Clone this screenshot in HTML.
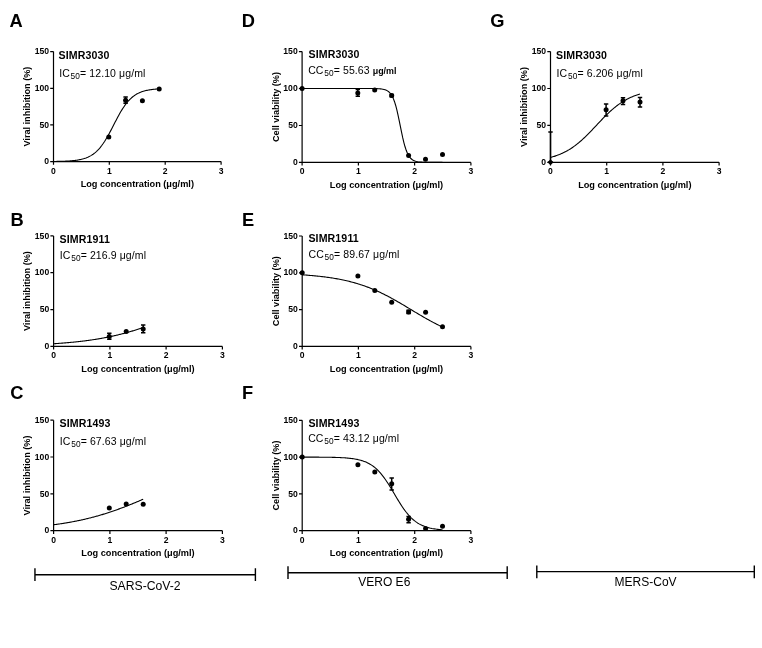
<!DOCTYPE html>
<html><head><meta charset="utf-8"><style>
html,body{margin:0;padding:0;background:#fff;}
svg{display:block;font-family:"Liberation Sans",sans-serif;will-change:transform;}
</style></head><body>
<svg width="762" height="648" viewBox="0 0 762 648" fill="#000">
<text x="9.5" y="27.1" font-size="18.3" font-weight="bold">A</text>
<path d="M53.5 51.6V161.6H221.1" fill="none" stroke="#000" stroke-width="1.2"/>
<path d="M50.2 161.6H53.5M50.2 124.9H53.5M50.2 88.3H53.5M50.2 51.6H53.5M53.5 161.6V164.8M109.3 161.6V164.8M165.2 161.6V164.8M221.1 161.6V164.8" stroke="#000" stroke-width="1.2"/>
<text x="49.1" y="164.2" font-size="8.6" font-weight="bold" text-anchor="end">0</text>
<text x="49.1" y="127.5" font-size="8.6" font-weight="bold" text-anchor="end">50</text>
<text x="49.1" y="90.9" font-size="8.6" font-weight="bold" text-anchor="end">100</text>
<text x="49.1" y="54.2" font-size="8.6" font-weight="bold" text-anchor="end">150</text>
<text x="53.5" y="173.6" font-size="8.6" font-weight="bold" text-anchor="middle">0</text>
<text x="109.3" y="173.6" font-size="8.6" font-weight="bold" text-anchor="middle">1</text>
<text x="165.2" y="173.6" font-size="8.6" font-weight="bold" text-anchor="middle">2</text>
<text x="221.1" y="173.6" font-size="8.6" font-weight="bold" text-anchor="middle">3</text>
<text x="137.3" y="187.3" font-size="9.2" font-weight="bold" text-anchor="middle">Log concentration (μg/ml)</text>
<text transform="translate(29.9 106.6) rotate(-90)" x="0" y="0" font-size="9.15" font-weight="bold" text-anchor="middle">Viral inhibition (%)</text>
<text x="58.5" y="59.0" font-size="10.6" font-weight="bold" letter-spacing="0.12">SIMR3030</text>
<text x="59.2" y="77.0" font-size="10.5" letter-spacing="0.1">IC<tspan font-size="8.3" dx="0.7" dy="2.1">50</tspan><tspan dy="-2.1">= 12.10 μg/ml</tspan></text>
<polyline points="53.45,161.48 54.33,161.47 55.21,161.45 56.09,161.44 56.98,161.42 57.86,161.41 58.74,161.39 59.62,161.37 60.50,161.34 61.38,161.32 62.26,161.29 63.15,161.26 64.03,161.23 64.91,161.19 65.79,161.15 66.67,161.11 67.55,161.06 68.43,161.01 69.32,160.95 70.20,160.89 71.08,160.82 71.96,160.74 72.84,160.66 73.72,160.57 74.61,160.47 75.49,160.36 76.37,160.24 77.25,160.11 78.13,159.96 79.01,159.81 79.89,159.64 80.78,159.45 81.66,159.24 82.54,159.02 83.42,158.78 84.30,158.51 85.18,158.22 86.06,157.91 86.95,157.56 87.83,157.19 88.71,156.79 89.59,156.35 90.47,155.87 91.35,155.36 92.23,154.80 93.12,154.20 94.00,153.55 94.88,152.86 95.76,152.11 96.64,151.31 97.52,150.45 98.40,149.54 99.29,148.56 100.17,147.53 101.05,146.43 101.93,145.27 102.81,144.05 103.69,142.77 104.58,141.43 105.46,140.03 106.34,138.58 107.22,137.07 108.10,135.52 108.98,133.93 109.86,132.29 110.75,130.63 111.63,128.94 112.51,127.24 113.39,125.52 114.27,123.81 115.15,122.09 116.03,120.39 116.92,118.71 117.80,117.06 118.68,115.44 119.56,113.85 120.44,112.32 121.32,110.83 122.20,109.39 123.09,108.01 123.97,106.69 124.85,105.42 125.73,104.22 126.61,103.09 127.49,102.01 128.37,100.99 129.26,100.04 130.14,99.14 131.02,98.30 131.90,97.52 132.78,96.78 133.66,96.10 134.54,95.47 135.43,94.89 136.31,94.34 137.19,93.84 138.07,93.38 138.95,92.95 139.83,92.55 140.72,92.19 141.60,91.86 142.48,91.55 143.36,91.27 144.24,91.01 145.12,90.77 146.00,90.56 146.89,90.36 147.77,90.18 148.65,90.01 149.53,89.86 150.41,89.72 151.29,89.59 152.17,89.47 153.06,89.37 153.94,89.27 154.82,89.18 155.70,89.10 156.58,89.03 157.46,88.96 158.34,88.90 159.23,88.84" fill="none" stroke="#000" stroke-width="1.1"/>
<circle cx="108.8" cy="137.0" r="2.5"/>
<path d="M125.6 97.1V103.3M123.4 97.1h4.4M123.4 103.3h4.4" stroke="#000" stroke-width="1.5"/>
<circle cx="125.6" cy="100.2" r="2.5"/>
<circle cx="142.4" cy="100.7" r="2.5"/>
<circle cx="159.2" cy="89.1" r="2.5"/>
<text x="10.5" y="226.1" font-size="18.3" font-weight="bold">B</text>
<path d="M53.6 235.9V346.4H222.4" fill="none" stroke="#000" stroke-width="1.2"/>
<path d="M50.4 346.4H53.6M50.4 309.6H53.6M50.4 272.7H53.6M50.4 235.9H53.6M53.6 346.4V349.6M109.9 346.4V349.6M166.1 346.4V349.6M222.4 346.4V349.6" stroke="#000" stroke-width="1.2"/>
<text x="49.2" y="349.0" font-size="8.6" font-weight="bold" text-anchor="end">0</text>
<text x="49.2" y="312.2" font-size="8.6" font-weight="bold" text-anchor="end">50</text>
<text x="49.2" y="275.3" font-size="8.6" font-weight="bold" text-anchor="end">100</text>
<text x="49.2" y="238.5" font-size="8.6" font-weight="bold" text-anchor="end">150</text>
<text x="53.6" y="358.4" font-size="8.6" font-weight="bold" text-anchor="middle">0</text>
<text x="109.9" y="358.4" font-size="8.6" font-weight="bold" text-anchor="middle">1</text>
<text x="166.1" y="358.4" font-size="8.6" font-weight="bold" text-anchor="middle">2</text>
<text x="222.4" y="358.4" font-size="8.6" font-weight="bold" text-anchor="middle">3</text>
<text x="138.0" y="372.1" font-size="9.2" font-weight="bold" text-anchor="middle">Log concentration (μg/ml)</text>
<text transform="translate(30.0 291.1) rotate(-90)" x="0" y="0" font-size="9.15" font-weight="bold" text-anchor="middle">Viral inhibition (%)</text>
<text x="59.5" y="243.0" font-size="10.6" font-weight="bold" letter-spacing="0.12">SIMR1911</text>
<text x="59.8" y="259.0" font-size="10.5" letter-spacing="0.1">IC<tspan font-size="8.3" dx="0.7" dy="2.1">50</tspan><tspan dy="-2.1">= 216.9 μg/ml</tspan></text>
<polyline points="53.60,343.73 54.35,343.68 55.09,343.63 55.84,343.58 56.59,343.53 57.33,343.48 58.08,343.43 58.82,343.38 59.57,343.32 60.32,343.27 61.06,343.21 61.81,343.16 62.56,343.10 63.30,343.04 64.05,342.98 64.80,342.92 65.54,342.86 66.29,342.79 67.03,342.73 67.78,342.66 68.53,342.60 69.27,342.53 70.02,342.46 70.77,342.39 71.51,342.32 72.26,342.25 73.01,342.18 73.75,342.10 74.50,342.03 75.24,341.95 75.99,341.87 76.74,341.79 77.48,341.71 78.23,341.63 78.98,341.55 79.72,341.47 80.47,341.38 81.22,341.29 81.96,341.20 82.71,341.11 83.46,341.02 84.20,340.93 84.95,340.84 85.69,340.74 86.44,340.64 87.19,340.54 87.93,340.44 88.68,340.34 89.43,340.24 90.17,340.13 90.92,340.03 91.67,339.92 92.41,339.81 93.16,339.70 93.90,339.58 94.65,339.47 95.40,339.35 96.14,339.23 96.89,339.11 97.64,338.99 98.38,338.86 99.13,338.74 99.88,338.61 100.62,338.48 101.37,338.35 102.11,338.22 102.86,338.08 103.61,337.94 104.35,337.80 105.10,337.66 105.85,337.52 106.59,337.37 107.34,337.23 108.09,337.08 108.83,336.93 109.58,336.77 110.32,336.62 111.07,336.46 111.82,336.30 112.56,336.14 113.31,335.97 114.06,335.80 114.80,335.64 115.55,335.47 116.30,335.29 117.04,335.12 117.79,334.94 118.53,334.76 119.28,334.58 120.03,334.39 120.77,334.21 121.52,334.02 122.27,333.82 123.01,333.63 123.76,333.43 124.51,333.24 125.25,333.03 126.00,332.83 126.74,332.63 127.49,332.42 128.24,332.21 128.98,331.99 129.73,331.78 130.48,331.56 131.22,331.34 131.97,331.12 132.72,330.89 133.46,330.67 134.21,330.44 134.96,330.20 135.70,329.97 136.45,329.73 137.19,329.49 137.94,329.25 138.69,329.01 139.43,328.76 140.18,328.51 140.93,328.26 141.67,328.00 142.42,327.75 143.17,327.49" fill="none" stroke="#000" stroke-width="1.1"/>
<path d="M109.3 333.3V339.3M107.1 333.3h4.4M107.1 339.3h4.4" stroke="#000" stroke-width="1.5"/>
<circle cx="109.3" cy="336.4" r="2.5"/>
<circle cx="126.2" cy="331.5" r="2.5"/>
<path d="M143.2 325.0V332.8M141.0 325.0h4.4M141.0 332.8h4.4" stroke="#000" stroke-width="1.5"/>
<circle cx="143.2" cy="328.9" r="2.5"/>
<text x="10.2" y="398.7" font-size="18.3" font-weight="bold">C</text>
<path d="M53.6 420.2V530.7H222.4" fill="none" stroke="#000" stroke-width="1.2"/>
<path d="M50.4 530.7H53.6M50.4 493.9H53.6M50.4 457.0H53.6M50.4 420.2H53.6M53.6 530.7V533.9M109.9 530.7V533.9M166.1 530.7V533.9M222.4 530.7V533.9" stroke="#000" stroke-width="1.2"/>
<text x="49.2" y="533.3" font-size="8.6" font-weight="bold" text-anchor="end">0</text>
<text x="49.2" y="496.5" font-size="8.6" font-weight="bold" text-anchor="end">50</text>
<text x="49.2" y="459.6" font-size="8.6" font-weight="bold" text-anchor="end">100</text>
<text x="49.2" y="422.8" font-size="8.6" font-weight="bold" text-anchor="end">150</text>
<text x="53.6" y="542.7" font-size="8.6" font-weight="bold" text-anchor="middle">0</text>
<text x="109.9" y="542.7" font-size="8.6" font-weight="bold" text-anchor="middle">1</text>
<text x="166.1" y="542.7" font-size="8.6" font-weight="bold" text-anchor="middle">2</text>
<text x="222.4" y="542.7" font-size="8.6" font-weight="bold" text-anchor="middle">3</text>
<text x="138.0" y="556.4" font-size="9.2" font-weight="bold" text-anchor="middle">Log concentration (μg/ml)</text>
<text transform="translate(30.0 475.5) rotate(-90)" x="0" y="0" font-size="9.15" font-weight="bold" text-anchor="middle">Viral inhibition (%)</text>
<text x="59.5" y="427.0" font-size="10.6" font-weight="bold" letter-spacing="0.12">SIMR1493</text>
<text x="59.8" y="445.0" font-size="10.5" letter-spacing="0.1">IC<tspan font-size="8.3" dx="0.7" dy="2.1">50</tspan><tspan dy="-2.1">= 67.63 μg/ml</tspan></text>
<polyline points="53.60,524.76 54.35,524.66 55.09,524.56 55.84,524.46 56.59,524.36 57.33,524.26 58.08,524.15 58.82,524.04 59.57,523.93 60.32,523.82 61.06,523.71 61.81,523.60 62.56,523.48 63.30,523.37 64.05,523.25 64.80,523.13 65.54,523.00 66.29,522.88 67.03,522.75 67.78,522.63 68.53,522.50 69.27,522.37 70.02,522.23 70.77,522.10 71.51,521.96 72.26,521.83 73.01,521.69 73.75,521.54 74.50,521.40 75.24,521.25 75.99,521.11 76.74,520.96 77.48,520.80 78.23,520.65 78.98,520.49 79.72,520.34 80.47,520.18 81.22,520.01 81.96,519.85 82.71,519.68 83.46,519.52 84.20,519.35 84.95,519.17 85.69,519.00 86.44,518.82 87.19,518.64 87.93,518.46 88.68,518.28 89.43,518.09 90.17,517.91 90.92,517.72 91.67,517.53 92.41,517.33 93.16,517.13 93.90,516.94 94.65,516.74 95.40,516.53 96.14,516.33 96.89,516.12 97.64,515.91 98.38,515.70 99.13,515.48 99.88,515.27 100.62,515.05 101.37,514.83 102.11,514.60 102.86,514.38 103.61,514.15 104.35,513.92 105.10,513.69 105.85,513.45 106.59,513.22 107.34,512.98 108.09,512.74 108.83,512.49 109.58,512.25 110.32,512.00 111.07,511.75 111.82,511.50 112.56,511.24 113.31,510.99 114.06,510.73 114.80,510.47 115.55,510.21 116.30,509.94 117.04,509.67 117.79,509.40 118.53,509.13 119.28,508.86 120.03,508.59 120.77,508.31 121.52,508.03 122.27,507.75 123.01,507.47 123.76,507.18 124.51,506.89 125.25,506.61 126.00,506.32 126.74,506.02 127.49,505.73 128.24,505.44 128.98,505.14 129.73,504.84 130.48,504.54 131.22,504.24 131.97,503.94 132.72,503.63 133.46,503.32 134.21,503.02 134.96,502.71 135.70,502.40 136.45,502.09 137.19,501.77 137.94,501.46 138.69,501.14 139.43,500.83 140.18,500.51 140.93,500.19 141.67,499.87 142.42,499.55 143.17,499.23" fill="none" stroke="#000" stroke-width="1.1"/>
<circle cx="109.3" cy="508.0" r="2.5"/>
<circle cx="126.2" cy="503.9" r="2.5"/>
<circle cx="143.2" cy="504.2" r="2.5"/>
<text x="241.8" y="27.1" font-size="18.3" font-weight="bold">D</text>
<path d="M302.1 51.6V162.4H470.9" fill="none" stroke="#000" stroke-width="1.2"/>
<path d="M298.9 162.4H302.1M298.9 125.5H302.1M298.9 88.5H302.1M298.9 51.6H302.1M302.1 162.4V165.6M358.4 162.4V165.6M414.6 162.4V165.6M470.9 162.4V165.6" stroke="#000" stroke-width="1.2"/>
<text x="297.7" y="165.0" font-size="8.6" font-weight="bold" text-anchor="end">0</text>
<text x="297.7" y="128.1" font-size="8.6" font-weight="bold" text-anchor="end">50</text>
<text x="297.7" y="91.1" font-size="8.6" font-weight="bold" text-anchor="end">100</text>
<text x="297.7" y="54.2" font-size="8.6" font-weight="bold" text-anchor="end">150</text>
<text x="302.1" y="174.4" font-size="8.6" font-weight="bold" text-anchor="middle">0</text>
<text x="358.4" y="174.4" font-size="8.6" font-weight="bold" text-anchor="middle">1</text>
<text x="414.6" y="174.4" font-size="8.6" font-weight="bold" text-anchor="middle">2</text>
<text x="470.9" y="174.4" font-size="8.6" font-weight="bold" text-anchor="middle">3</text>
<text x="386.5" y="188.1" font-size="9.2" font-weight="bold" text-anchor="middle">Log concentration (μg/ml)</text>
<text transform="translate(278.5 107.0) rotate(-90)" x="0" y="0" font-size="9.15" font-weight="bold" text-anchor="middle">Cell viability (%)</text>
<text x="308.6" y="58.0" font-size="10.6" font-weight="bold" letter-spacing="0.12">SIMR3030</text>
<text x="308.2" y="73.5" font-size="10.5" letter-spacing="0.1">CC<tspan font-size="8.3" dx="0.7" dy="2.1">50</tspan><tspan dy="-2.1">= 55.63 </tspan><tspan font-size="8.9" font-weight="bold" letter-spacing="0">μg/ml</tspan></text>
<polyline points="302.10,88.53 303.27,88.53 304.44,88.53 305.61,88.53 306.78,88.53 307.95,88.53 309.12,88.53 310.29,88.53 311.46,88.53 312.63,88.53 313.80,88.53 314.97,88.53 316.14,88.53 317.31,88.53 318.48,88.53 319.65,88.53 320.82,88.53 321.99,88.53 323.16,88.53 324.33,88.53 325.50,88.53 326.67,88.53 327.84,88.53 329.01,88.53 330.18,88.53 331.35,88.53 332.52,88.53 333.69,88.53 334.86,88.53 336.03,88.53 337.19,88.53 338.36,88.53 339.53,88.53 340.70,88.53 341.87,88.53 343.04,88.53 344.21,88.53 345.38,88.53 346.55,88.53 347.72,88.53 348.89,88.53 350.06,88.53 351.23,88.53 352.40,88.53 353.57,88.53 354.74,88.53 355.91,88.53 357.08,88.53 358.25,88.53 359.42,88.53 360.59,88.54 361.76,88.54 362.93,88.54 364.10,88.54 365.27,88.54 366.44,88.54 367.61,88.54 368.78,88.55 369.95,88.55 371.12,88.56 372.29,88.57 373.46,88.59 374.63,88.61 375.80,88.64 376.97,88.67 378.14,88.73 379.31,88.80 380.48,88.89 381.65,89.03 382.82,89.21 383.99,89.45 385.16,89.79 386.33,90.25 387.50,90.87 388.67,91.69 389.84,92.80 391.01,94.26 392.18,96.17 393.35,98.63 394.52,101.71 395.69,105.48 396.86,109.95 398.03,115.05 399.20,120.62 400.37,126.43 401.54,132.19 402.71,137.63 403.88,142.53 405.05,146.78 406.21,150.32 407.38,153.18 408.55,155.44 409.72,157.20 410.89,158.53 412.06,159.54 413.23,160.29 414.40,160.85 415.57,161.26 416.74,161.57 417.91,161.79 419.08,161.96 420.25,162.08 421.42,162.16 422.59,162.23 423.76,162.27 424.93,162.31 426.10,162.33 427.27,162.35 428.44,162.36 429.61,162.37 430.78,162.38 431.95,162.39 433.12,162.39 434.29,162.39 435.46,162.39 436.63,162.40 437.80,162.40 438.97,162.40 440.14,162.40 441.31,162.40 442.48,162.40" fill="none" stroke="#000" stroke-width="1.1"/>
<circle cx="302.1" cy="88.5" r="2.5"/>
<path d="M357.8 89.5V96.3M355.6 89.5h4.4M355.6 96.3h4.4" stroke="#000" stroke-width="1.5"/>
<circle cx="357.8" cy="93.0" r="2.5"/>
<circle cx="374.7" cy="89.9" r="2.5"/>
<path d="M391.7 94.4V96.7M389.5 94.4h4.4M389.5 96.7h4.4" stroke="#000" stroke-width="1.5"/>
<circle cx="391.7" cy="95.5" r="2.5"/>
<circle cx="408.6" cy="155.5" r="2.5"/>
<circle cx="425.5" cy="159.2" r="2.5"/>
<circle cx="442.5" cy="154.4" r="2.5"/>
<text x="242.1" y="226.1" font-size="18.3" font-weight="bold">E</text>
<path d="M302.2 236.0V346.4H470.9" fill="none" stroke="#000" stroke-width="1.2"/>
<path d="M299.0 346.4H302.2M299.0 309.6H302.2M299.0 272.8H302.2M299.0 236.0H302.2M302.2 346.4V349.6M358.4 346.4V349.6M414.7 346.4V349.6M470.9 346.4V349.6" stroke="#000" stroke-width="1.2"/>
<text x="297.8" y="349.0" font-size="8.6" font-weight="bold" text-anchor="end">0</text>
<text x="297.8" y="312.2" font-size="8.6" font-weight="bold" text-anchor="end">50</text>
<text x="297.8" y="275.4" font-size="8.6" font-weight="bold" text-anchor="end">100</text>
<text x="297.8" y="238.6" font-size="8.6" font-weight="bold" text-anchor="end">150</text>
<text x="302.2" y="358.4" font-size="8.6" font-weight="bold" text-anchor="middle">0</text>
<text x="358.4" y="358.4" font-size="8.6" font-weight="bold" text-anchor="middle">1</text>
<text x="414.7" y="358.4" font-size="8.6" font-weight="bold" text-anchor="middle">2</text>
<text x="470.9" y="358.4" font-size="8.6" font-weight="bold" text-anchor="middle">3</text>
<text x="386.5" y="372.1" font-size="9.2" font-weight="bold" text-anchor="middle">Log concentration (μg/ml)</text>
<text transform="translate(278.6 291.2) rotate(-90)" x="0" y="0" font-size="9.15" font-weight="bold" text-anchor="middle">Cell viability (%)</text>
<text x="308.4" y="242.0" font-size="10.6" font-weight="bold" letter-spacing="0.12">SIMR1911</text>
<text x="308.5" y="258.0" font-size="10.5" letter-spacing="0.1">CC<tspan font-size="8.3" dx="0.7" dy="2.1">50</tspan><tspan dy="-2.1">= 89.67 μg/ml</tspan></text>
<polyline points="302.20,274.83 303.37,274.90 304.54,274.98 305.71,275.07 306.88,275.15 308.05,275.24 309.21,275.33 310.38,275.43 311.55,275.53 312.72,275.63 313.89,275.73 315.06,275.84 316.23,275.96 317.40,276.08 318.57,276.20 319.74,276.32 320.91,276.45 322.08,276.59 323.24,276.73 324.41,276.88 325.58,277.03 326.75,277.18 327.92,277.34 329.09,277.51 330.26,277.68 331.43,277.86 332.60,278.04 333.77,278.23 334.94,278.42 336.10,278.63 337.27,278.84 338.44,279.05 339.61,279.27 340.78,279.50 341.95,279.74 343.12,279.98 344.29,280.24 345.46,280.50 346.63,280.76 347.80,281.04 348.97,281.33 350.13,281.62 351.30,281.92 352.47,282.23 353.64,282.55 354.81,282.88 355.98,283.22 357.15,283.56 358.32,283.92 359.49,284.29 360.66,284.66 361.83,285.05 363.00,285.44 364.16,285.85 365.33,286.27 366.50,286.69 367.67,287.13 368.84,287.58 370.01,288.04 371.18,288.50 372.35,288.98 373.52,289.47 374.69,289.97 375.86,290.48 377.02,291.00 378.19,291.53 379.36,292.07 380.53,292.62 381.70,293.18 382.87,293.75 384.04,294.32 385.21,294.91 386.38,295.51 387.55,296.11 388.72,296.73 389.89,297.35 391.05,297.98 392.22,298.62 393.39,299.27 394.56,299.92 395.73,300.58 396.90,301.24 398.07,301.91 399.24,302.59 400.41,303.27 401.58,303.96 402.75,304.65 403.91,305.34 405.08,306.04 406.25,306.74 407.42,307.44 408.59,308.14 409.76,308.85 410.93,309.55 412.10,310.26 413.27,310.96 414.44,311.66 415.61,312.36 416.78,313.06 417.94,313.76 419.11,314.46 420.28,315.15 421.45,315.83 422.62,316.51 423.79,317.19 424.96,317.86 426.13,318.53 427.30,319.19 428.47,319.84 429.64,320.49 430.81,321.13 431.97,321.76 433.14,322.38 434.31,323.00 435.48,323.61 436.65,324.21 437.82,324.79 438.99,325.37 440.16,325.94 441.33,326.51 442.50,327.06" fill="none" stroke="#000" stroke-width="1.1"/>
<circle cx="302.2" cy="272.8" r="2.5"/>
<circle cx="357.9" cy="275.9" r="2.5"/>
<circle cx="374.8" cy="290.5" r="2.5"/>
<circle cx="391.7" cy="302.2" r="2.5"/>
<path d="M408.6 310.3V313.6M406.4 310.3h4.4M406.4 313.6h4.4" stroke="#000" stroke-width="1.5"/>
<circle cx="408.6" cy="312.0" r="2.5"/>
<circle cx="425.6" cy="312.2" r="2.5"/>
<circle cx="442.5" cy="326.7" r="2.5"/>
<text x="242.1" y="398.7" font-size="18.3" font-weight="bold">F</text>
<path d="M302.2 420.3V530.7H470.9" fill="none" stroke="#000" stroke-width="1.2"/>
<path d="M299.0 530.7H302.2M299.0 493.9H302.2M299.0 457.1H302.2M299.0 420.3H302.2M302.2 530.7V533.9M358.4 530.7V533.9M414.7 530.7V533.9M470.9 530.7V533.9" stroke="#000" stroke-width="1.2"/>
<text x="297.8" y="533.3" font-size="8.6" font-weight="bold" text-anchor="end">0</text>
<text x="297.8" y="496.5" font-size="8.6" font-weight="bold" text-anchor="end">50</text>
<text x="297.8" y="459.7" font-size="8.6" font-weight="bold" text-anchor="end">100</text>
<text x="297.8" y="422.9" font-size="8.6" font-weight="bold" text-anchor="end">150</text>
<text x="302.2" y="542.7" font-size="8.6" font-weight="bold" text-anchor="middle">0</text>
<text x="358.4" y="542.7" font-size="8.6" font-weight="bold" text-anchor="middle">1</text>
<text x="414.7" y="542.7" font-size="8.6" font-weight="bold" text-anchor="middle">2</text>
<text x="470.9" y="542.7" font-size="8.6" font-weight="bold" text-anchor="middle">3</text>
<text x="386.5" y="556.4" font-size="9.2" font-weight="bold" text-anchor="middle">Log concentration (μg/ml)</text>
<text transform="translate(278.6 475.5) rotate(-90)" x="0" y="0" font-size="9.15" font-weight="bold" text-anchor="middle">Cell viability (%)</text>
<text x="308.4" y="427.0" font-size="10.6" font-weight="bold" letter-spacing="0.12">SIMR1493</text>
<text x="308.2" y="442.0" font-size="10.5" letter-spacing="0.1">CC<tspan font-size="8.3" dx="0.7" dy="2.1">50</tspan><tspan dy="-2.1">= 43.12 μg/ml</tspan></text>
<polyline points="302.20,457.12 303.37,457.12 304.54,457.12 305.71,457.12 306.88,457.12 308.05,457.13 309.21,457.13 310.38,457.13 311.55,457.14 312.72,457.14 313.89,457.14 315.06,457.15 316.23,457.15 317.40,457.16 318.57,457.17 319.74,457.18 320.91,457.18 322.08,457.19 323.24,457.20 324.41,457.22 325.58,457.23 326.75,457.24 327.92,457.26 329.09,457.28 330.26,457.30 331.43,457.32 332.60,457.35 333.77,457.38 334.94,457.41 336.10,457.44 337.27,457.48 338.44,457.52 339.61,457.57 340.78,457.62 341.95,457.68 343.12,457.75 344.29,457.82 345.46,457.90 346.63,457.99 347.80,458.09 348.97,458.21 350.13,458.33 351.30,458.47 352.47,458.62 353.64,458.79 354.81,458.97 355.98,459.18 357.15,459.41 358.32,459.67 359.49,459.95 360.66,460.26 361.83,460.60 363.00,460.97 364.16,461.39 365.33,461.85 366.50,462.35 367.67,462.90 368.84,463.50 370.01,464.16 371.18,464.87 372.35,465.66 373.52,466.50 374.69,467.42 375.86,468.42 377.02,469.49 378.19,470.64 379.36,471.87 380.53,473.18 381.70,474.57 382.87,476.05 384.04,477.61 385.21,479.24 386.38,480.94 387.55,482.71 388.72,484.53 389.89,486.41 391.05,488.33 392.22,490.28 393.39,492.25 394.56,494.23 395.73,496.21 396.90,498.18 398.07,500.12 399.24,502.02 400.41,503.88 401.58,505.69 402.75,507.44 403.91,509.12 405.08,510.72 406.25,512.25 407.42,513.70 408.59,515.07 409.76,516.35 410.93,517.56 412.10,518.68 413.27,519.72 414.44,520.69 415.61,521.59 416.78,522.41 417.94,523.17 419.11,523.87 420.28,524.51 421.45,525.09 422.62,525.63 423.79,526.11 424.96,526.55 426.13,526.96 427.30,527.32 428.47,527.65 429.64,527.95 430.81,528.22 431.97,528.47 433.14,528.69 434.31,528.89 435.48,529.07 436.65,529.23 437.82,529.38 438.99,529.51 440.16,529.63 441.33,529.74 442.50,529.84" fill="none" stroke="#000" stroke-width="1.1"/>
<circle cx="302.2" cy="457.1" r="2.5"/>
<circle cx="357.9" cy="464.8" r="2.5"/>
<circle cx="374.8" cy="472.0" r="2.5"/>
<path d="M391.7 477.9V489.9M389.5 477.9h4.4M389.5 489.9h4.4" stroke="#000" stroke-width="1.5"/>
<circle cx="391.7" cy="483.8" r="2.5"/>
<path d="M408.6 516.4V522.7M406.4 516.4h4.4M406.4 522.7h4.4" stroke="#000" stroke-width="1.5"/>
<circle cx="408.6" cy="519.3" r="2.5"/>
<circle cx="425.6" cy="528.5" r="2.5"/>
<circle cx="442.5" cy="526.2" r="2.5"/>
<text x="490.2" y="27.1" font-size="18.3" font-weight="bold">G</text>
<path d="M550.5 51.6V162.3H719.1" fill="none" stroke="#000" stroke-width="1.2"/>
<path d="M547.3 162.3H550.5M547.3 125.4H550.5M547.3 88.5H550.5M547.3 51.6H550.5M550.5 162.3V165.5M606.7 162.3V165.5M662.9 162.3V165.5M719.1 162.3V165.5" stroke="#000" stroke-width="1.2"/>
<text x="546.1" y="164.9" font-size="8.6" font-weight="bold" text-anchor="end">0</text>
<text x="546.1" y="128.0" font-size="8.6" font-weight="bold" text-anchor="end">50</text>
<text x="546.1" y="91.1" font-size="8.6" font-weight="bold" text-anchor="end">100</text>
<text x="546.1" y="54.2" font-size="8.6" font-weight="bold" text-anchor="end">150</text>
<text x="550.5" y="174.3" font-size="8.6" font-weight="bold" text-anchor="middle">0</text>
<text x="606.7" y="174.3" font-size="8.6" font-weight="bold" text-anchor="middle">1</text>
<text x="662.9" y="174.3" font-size="8.6" font-weight="bold" text-anchor="middle">2</text>
<text x="719.1" y="174.3" font-size="8.6" font-weight="bold" text-anchor="middle">3</text>
<text x="634.8" y="188.0" font-size="9.2" font-weight="bold" text-anchor="middle">Log concentration (μg/ml)</text>
<text transform="translate(526.9 107.0) rotate(-90)" x="0" y="0" font-size="9.15" font-weight="bold" text-anchor="middle">Viral inhibition (%)</text>
<text x="556.1" y="59.0" font-size="10.6" font-weight="bold" letter-spacing="0.12">SIMR3030</text>
<text x="556.6" y="77.0" font-size="10.5" letter-spacing="0.1">IC<tspan font-size="8.3" dx="0.7" dy="2.1">50</tspan><tspan dy="-2.1">= 6.206 μg/ml</tspan></text>
<polyline points="550.50,157.43 551.25,157.23 551.99,157.02 552.74,156.80 553.48,156.58 554.23,156.35 554.97,156.11 555.72,155.86 556.46,155.60 557.21,155.34 557.95,155.06 558.70,154.77 559.45,154.48 560.19,154.17 560.94,153.86 561.68,153.53 562.43,153.19 563.17,152.84 563.92,152.48 564.66,152.11 565.41,151.72 566.16,151.33 566.90,150.92 567.65,150.50 568.39,150.06 569.14,149.62 569.88,149.16 570.63,148.69 571.37,148.20 572.12,147.70 572.86,147.19 573.61,146.67 574.36,146.13 575.10,145.58 575.85,145.02 576.59,144.44 577.34,143.85 578.08,143.25 578.83,142.64 579.57,142.01 580.32,141.37 581.07,140.72 581.81,140.05 582.56,139.38 583.30,138.69 584.05,138.00 584.79,137.29 585.54,136.57 586.28,135.85 587.03,135.11 587.77,134.37 588.52,133.62 589.27,132.86 590.01,132.09 590.76,131.32 591.50,130.54 592.25,129.76 592.99,128.98 593.74,128.19 594.48,127.40 595.23,126.60 595.98,125.81 596.72,125.01 597.47,124.22 598.21,123.43 598.96,122.64 599.70,121.85 600.45,121.06 601.19,120.28 601.94,119.50 602.68,118.73 603.43,117.97 604.18,117.21 604.92,116.46 605.67,115.71 606.41,114.98 607.16,114.25 607.90,113.53 608.65,112.83 609.39,112.13 610.14,111.44 610.88,110.77 611.63,110.10 612.38,109.45 613.12,108.81 613.87,108.18 614.61,107.57 615.36,106.96 616.10,106.37 616.85,105.80 617.59,105.23 618.34,104.68 619.09,104.15 619.83,103.62 620.58,103.11 621.32,102.61 622.07,102.13 622.81,101.66 623.56,101.20 624.30,100.75 625.05,100.32 625.79,99.89 626.54,99.49 627.29,99.09 628.03,98.70 628.78,98.33 629.52,97.97 630.27,97.62 631.01,97.28 631.76,96.95 632.50,96.64 633.25,96.33 634.00,96.03 634.74,95.75 635.49,95.47 636.23,95.20 636.98,94.95 637.72,94.70 638.47,94.46 639.21,94.23 639.96,94.00" fill="none" stroke="#000" stroke-width="1.1"/>
<path d="M550.5 132.0V162.3M548.3 132.0h4.4M548.3 162.3h4.4" stroke="#000" stroke-width="1.5"/>
<path d="M550.5 159.3l3 3l-3 3l-3 -3z"/>
<path d="M606.1 104.0V116.0M603.9 104.0h4.4M603.9 116.0h4.4" stroke="#000" stroke-width="1.5"/>
<circle cx="606.1" cy="109.8" r="2.5"/>
<path d="M623.0 97.7V104.4M620.8 97.7h4.4M620.8 104.4h4.4" stroke="#000" stroke-width="1.5"/>
<circle cx="623.0" cy="100.8" r="2.5"/>
<path d="M640.0 97.4V107.1M637.8 97.4h4.4M637.8 107.1h4.4" stroke="#000" stroke-width="1.5"/>
<circle cx="640.0" cy="102.0" r="2.5"/>
<path d="M34.95 574.7H255.4M34.95 568.2V581M255.4 568.2V581" stroke="#000" stroke-width="1.4" fill="none"/>
<text x="145.05" y="589.6" font-size="12.2" text-anchor="middle">SARS-CoV-2</text>
<path d="M288 572.7H507.2M288 566.3V579.1M507.2 566.3V579.1" stroke="#000" stroke-width="1.4" fill="none"/>
<text x="384.3" y="586.2" font-size="12" text-anchor="middle">VERO E6</text>
<path d="M536.8 571.6H754.3M536.8 565.5V578.2M754.3 565.5V578.2" stroke="#000" stroke-width="1.4" fill="none"/>
<text x="645.6" y="586.0" font-size="12" text-anchor="middle">MERS-CoV</text>
</svg>
</body></html>
